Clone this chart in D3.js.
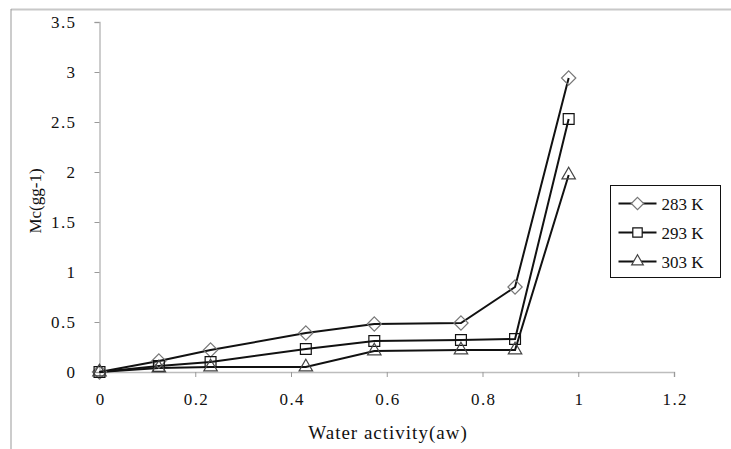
<!DOCTYPE html>
<html>
<head>
<meta charset="utf-8">
<script src="https://cdn.jsdelivr.net/npm/d3@7"></script>
</head>
<body style="margin:0">
<div id="chart"></div>
<script>
// water activity values (x) shared by all series
const aw = [0, 0.124, 0.232, 0.431, 0.574, 0.755, 0.868, 0.98];
const mc283 = [0, 0.11, 0.22, 0.39, 0.48, 0.49, 0.85, 2.94];
const mc293 = [0, 0.06, 0.10, 0.23, 0.31, 0.32, 0.33, 2.53];
const mc303 = [0, 0.04, 0.05, 0.05, 0.21, 0.22, 0.22, 1.97];
const seriesNames = [`283 K`, `293 K`, `303 K`];
const xTicks = [0, 0.2, 0.4, 0.6, 0.8, 1, 1.2];
const yTicks = [0, 0.5, 1, 1.5, 2, 2.5, 3, 3.5];

const width = 731;
const height = 449;
const margin = {top: 22, right: 57, bottom: 77, left: 99.5};
const fontFamily = `Liberation Serif`;

const svg = d3.select(`#chart`)
  .append(`svg`)
    .attr(`width`, width)
    .attr(`height`, height)
    .attr(`font-family`, fontFamily);

// outer frame (top and left edges visible)
svg.append(`line`)
  .attr(`x1`, 11).attr(`x2`, width).attr(`y1`, 9.5).attr(`y2`, 9.5)
  .attr(`stroke`, `#c8c8c8`).attr(`stroke-width`, 2);
svg.append(`line`)
  .attr(`x1`, 11).attr(`x2`, 11).attr(`y1`, 9).attr(`y2`, height)
  .attr(`stroke`, `#999`).attr(`stroke-width`, 1);

const x = d3.scaleLinear()
  .domain([0, 1.2])
  .range([margin.left, width - margin.right]);

const y = d3.scaleLinear()
  .domain([0, 3.5])
  .range([height - margin.bottom, margin.top]);

// x-axis
const xAxis = svg.append(`g`)
  .attr(`transform`, `translate(0,${y(0)})`)
  .call(d3.axisBottom(x).tickValues(xTicks).tickSize(5).tickPadding(16).tickFormat(d3.format(`~g`)));

// y-axis
const yAxis = svg.append(`g`)
  .attr(`transform`, `translate(${x(0)},0)`)
  .call(d3.axisLeft(y).tickValues(yTicks).tickSize(5).tickPadding(18).tickFormat(d3.format(`~g`)));

[xAxis, yAxis].forEach(g => {
  g.attr(`font-family`, fontFamily).attr(`font-size`, 17);
  g.select(`.domain`).attr(`stroke`, `#bdbdbd`).attr(`stroke-width`, 1.5);
  g.selectAll(`.tick line`).attr(`stroke`, `#999`);
  g.selectAll(`.tick text`)
    .attr(`font-family`, fontFamily)
    .attr(`letter-spacing`, 1.4)
    .attr(`fill`, `#111`);
});
xAxis.selectAll(`.tick text`).attr(`dx`, 0.7);

// axis titles
svg.append(`text`)
  .attr(`text-anchor`, `middle`)
  .attr(`x`, 388)
  .attr(`y`, 439)
  .attr(`font-family`, fontFamily)
  .attr(`font-size`, 19)
  .attr(`letter-spacing`, 1)
  .attr(`fill`, `#111`)
  .text(`Water activity(aw)`);

svg.append(`text`)
  .attr(`text-anchor`, `middle`)
  .attr(`transform`, `translate(41, 201) rotate(-90)`)
  .attr(`font-family`, fontFamily)
  .attr(`font-size`, 17)
  .attr(`fill`, `#111`)
  .text(`Mc(gg-1)`);

const series = [mc283, mc293, mc303].map((vals, i) => ({
  name: seriesNames[i],
  points: vals.map((v, j) => ({x: aw[j], y: v})),
}));

const symbols = [d3.symbolDiamond2, d3.symbolSquare2, d3.symbolTriangle2];
const symbolSizes = [130, 150, 130];
const symbolStroke = [`#777`, `#111`, `#444`];

const line = d3.line()
  .x(d => x(d.x))
  .y(d => y(d.y));

series.forEach(s => {
  svg.append(`path`)
    .datum(s.points)
    .attr(`fill`, `none`)
    .attr(`stroke`, `#111`)
    .attr(`stroke-width`, 2)
    .attr(`d`, line);
});

series.forEach((s, i) => {
  svg.append(`g`).selectAll(`path`)
    .data(s.points)
    .enter().append(`path`)
      .attr(`transform`, d => `translate(${x(d.x)},${y(d.y)})`)
      .attr(`d`, d3.symbol().type(symbols[i]).size(symbolSizes[i]))
      .attr(`fill`, `none`)
      .attr(`stroke`, symbolStroke[i])
      .attr(`stroke-width`, 1.2);
});

// legend
const legend = svg.append(`g`)
  .attr(`transform`, `translate(610.5, 185.5)`);

legend.append(`rect`)
  .attr(`width`, 110)
  .attr(`height`, 92)
  .attr(`fill`, `#fff`)
  .attr(`stroke`, `#111`)
  .attr(`stroke-width`, 1);

series.forEach((s, i) => {
  const row = legend.append(`g`)
    .attr(`transform`, `translate(0, ${18 + i * 29})`);
  row.append(`line`)
    .attr(`x1`, 8).attr(`x2`, 46)
    .attr(`stroke`, `#111`).attr(`stroke-width`, 2);
  row.append(`path`)
    .attr(`transform`, `translate(27, 0)`)
    .attr(`d`, d3.symbol().type(symbols[i]).size(symbolSizes[i] * 0.75))
    .attr(`fill`, `#fff`)
    .attr(`stroke`, symbolStroke[i])
    .attr(`stroke-width`, 1.2);
  row.append(`text`)
    .attr(`x`, 51)
    .attr(`y`, 6)
    .attr(`font-family`, fontFamily)
    .attr(`font-size`, 17)
    .attr(`fill`, `#111`)
    .text(s.name);
});
</script>
</body>
</html>
